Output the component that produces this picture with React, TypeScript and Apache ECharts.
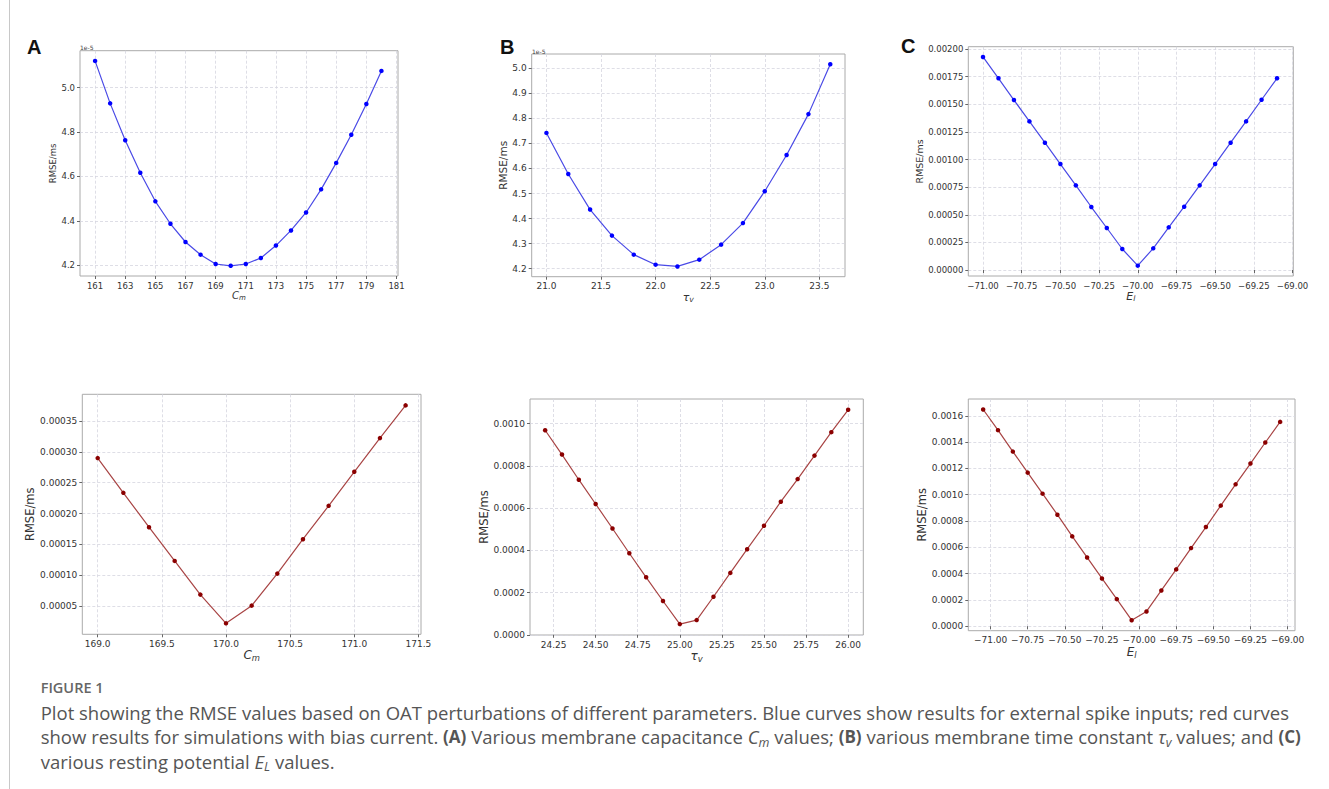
import React, { useEffect, useRef } from "react";
import * as echarts from "echarts";

// ---------- data ----------
const cmA = [161, 162, 163, 164, 165, 166, 167, 168, 169, 170, 171, 172, 173, 174, 175, 176, 177, 178, 179, 180];
const rmseA = [5.12, 4.929, 4.763, 4.617, 4.488, 4.387, 4.305, 4.248, 4.206, 4.198, 4.206, 4.233, 4.289, 4.357, 4.438, 4.542, 4.661, 4.788, 4.926, 5.075];

const tauB = [21.0, 21.2, 21.4, 21.6, 21.8, 22.0, 22.2, 22.4, 22.6, 22.8, 23.0, 23.2, 23.4, 23.6];
const rmseB = [4.742, 4.578, 4.436, 4.332, 4.256, 4.216, 4.209, 4.236, 4.296, 4.382, 4.509, 4.654, 4.817, 5.016];

const elC = [-71.0, -70.9, -70.8, -70.7, -70.6, -70.5, -70.4, -70.3, -70.2, -70.1, -70.0, -69.9, -69.8, -69.7, -69.6, -69.5, -69.4, -69.3, -69.2, -69.1];
const rmseC = [0.001928, 0.001735, 0.001538, 0.001345, 0.001152, 0.000959, 0.000766, 0.00057, 0.00038, 0.00019, 0.0000392, 0.000196, 0.000386, 0.000573, 0.000766, 0.000959, 0.001152, 0.001345, 0.001541, 0.001735];

const cmD = [169.0, 169.2, 169.4, 169.6, 169.8, 170.0, 170.2, 170.4, 170.6, 170.8, 171.0, 171.2, 171.4];
const rmseD = [0.00029, 0.0002336, 0.0001778, 0.0001231, 0.0000684, 0.0000218, 0.0000505, 0.0001025, 0.0001583, 0.0002125, 0.0002677, 0.0003224, 0.0003755];

const tauE = [24.2, 24.3, 24.4, 24.5, 24.6, 24.7, 24.8, 24.9, 25.0, 25.1, 25.2, 25.3, 25.4, 25.5, 25.6, 25.7, 25.8, 25.9, 26.0];
const rmseE = [0.000968, 0.000853, 0.000734, 0.000619, 0.000503, 0.000386, 0.000272, 0.00016, 0.0000506, 0.0000696, 0.00018, 0.000293, 0.000405, 0.000516, 0.00063, 0.000737, 0.000848, 0.000959, 0.001065];

const elF = [-71.05, -70.95, -70.85, -70.75, -70.65, -70.55, -70.45, -70.35, -70.25, -70.15, -70.05, -69.95, -69.85, -69.75, -69.65, -69.55, -69.45, -69.35, -69.25, -69.15, -69.05];
const rmseF = [0.001648, 0.001491, 0.001328, 0.001168, 0.001008, 0.000848, 0.000683, 0.000523, 0.000363, 0.000206, 0.0000457, 0.000112, 0.000272, 0.000432, 0.000594, 0.000754, 0.000917, 0.001079, 0.001237, 0.001397, 0.001554];

// ---------- tick values ----------
const xTicksA = [161, 163, 165, 167, 169, 171, 173, 175, 177, 179, 181];
const yTicksA = [4.2, 4.4, 4.6, 4.8, 5.0];
const xTicksB = [21.0, 21.5, 22.0, 22.5, 23.0, 23.5];
const yTicksB = [4.2, 4.3, 4.4, 4.5, 4.6, 4.7, 4.8, 4.9, 5.0];
const xTicksC = [-71.0, -70.75, -70.5, -70.25, -70.0, -69.75, -69.5, -69.25, -69.0];
const yTicksC = [0, 0.00025, 0.0005, 0.00075, 0.001, 0.00125, 0.0015, 0.00175, 0.002];
const xTicksD = [169.0, 169.5, 170.0, 170.5, 171.0, 171.5];
const yTicksD = [0.00005, 0.0001, 0.00015, 0.0002, 0.00025, 0.0003, 0.00035];
const xTicksE = [24.25, 24.5, 24.75, 25.0, 25.25, 25.5, 25.75, 26.0];
const yTicksE = [0, 0.0002, 0.0004, 0.0006, 0.0008, 0.001];
const xTicksF = [-71.0, -70.75, -70.5, -70.25, -70.0, -69.75, -69.5, -69.25, -69.0];
const yTicksF = [0, 0.0002, 0.0004, 0.0006, 0.0008, 0.001, 0.0012, 0.0014, 0.0016];

// ---------- texts ----------
const yAxisTitle = "RMSE/ms";
const panelLetters = ["A", "B", "C"];
const offsetText = "1e-5";
const figureLabel = "FIGURE 1";
const captionLines = [
  "Plot showing the RMSE values based on OAT perturbations of different parameters. Blue curves show results for external spike inputs; red curves",
  "show results for simulations with bias current. {b|(A)} Various membrane capacitance {i|C}{s|m} values; {b|(B)} various membrane time constant {i|τ}{s|v} values; and {b|(C)}",
  "various resting potential {i|E}{s|L} values.",
];

const BLUE_LINE = "#4a4ae6";
const BLUE_DOT = "#0000ff";
const RED_LINE = "#a84444";
const RED_DOT = "#8b0000";

const fmt = (v: number, d: number) => v.toFixed(d).replace("-", "\u2212");

type Panel = {
  x: number[]; y: number[]; xt: number[]; yt: number[]; xd: number; yd: number;
  xName: string;
  left: number; top: number; width: number; height: number;
  xMin: number; xMax: number; yMin: number; yMax: number;
  tick: number; yNameSize: number; yGap: number; xNameSize: number; xGap: number;
  line: string; dot: string;
};

const panels: Panel[] = [
  { x: cmA, y: rmseA, xt: xTicksA, yt: yTicksA, xd: 0, yd: 1, xName: "{i|C}{s|m}",
    left: 80, top: 50.7, width: 318, height: 225.3, xMin: 160, xMax: 181.1, yMin: 4.152, yMax: 5.166,
    tick: 8.5, yNameSize: 8.5, yGap: 15, xNameSize: 10, xGap: 11, line: BLUE_LINE, dot: BLUE_DOT },
  { x: tauB, y: rmseB, xt: xTicksB, yt: yTicksB, xd: 1, yd: 1, xName: "{i|τ}{s|v}",
    left: 531.7, top: 54, width: 313.3, height: 222.7, xMin: 20.865, xMax: 23.735, yMin: 4.168, yMax: 5.057,
    tick: 9, yNameSize: 10.5, yGap: 15, xNameSize: 11, xGap: 9.5, line: BLUE_LINE, dot: BLUE_DOT },
  { x: elC, y: rmseC, xt: xTicksC, yt: yTicksC, xd: 2, yd: 5, xName: "{i|E}{s|l}",
    left: 968.3, top: 46.7, width: 325, height: 229.3, xMin: -71.095, xMax: -68.995, yMin: -0.0000543, yMax: 0.002021,
    tick: 8.5, yNameSize: 9.5, yGap: 37, xNameSize: 11, xGap: 9, line: BLUE_LINE, dot: BLUE_DOT },
  { x: cmD, y: rmseD, xt: xTicksD, yt: yTicksD, xd: 1, yd: 5, xName: "{i|C}{s|m}",
    left: 82.3, top: 394.3, width: 338.7, height: 240, xMin: 168.88, xMax: 171.52, yMin: 0.000004, yMax: 0.0003935,
    tick: 9, yNameSize: 11.5, yGap: 35, xNameSize: 12, xGap: 15, line: RED_LINE, dot: RED_DOT },
  { x: tauE, y: rmseE, xt: xTicksE, yt: yTicksE, xd: 2, yd: 4, xName: "{i|τ}{s|v}",
    left: 530, top: 399, width: 333.3, height: 236, xMin: 24.11, xMax: 26.09, yMin: -0.000001, yMax: 0.001116,
    tick: 9, yNameSize: 11.5, yGap: 35, xNameSize: 12, xGap: 6, line: RED_LINE, dot: RED_DOT },
  { x: elF, y: rmseF, xt: xTicksF, yt: yTicksF, xd: 2, yd: 4, xName: "{i|E}{s|l}",
    left: 968.3, top: 399, width: 326.7, height: 231.7, xMin: -71.15, xMax: -68.95, yMin: -0.0000343, yMax: 0.001728,
    tick: 9, yNameSize: 11.5, yGap: 32, xNameSize: 12, xGap: 8.5, line: RED_LINE, dot: RED_DOT },
];

const MPL = "DejaVu Sans";
const CAP = "Open Sans";
const CAP_SIZE = 18.5;

function buildOption() {
  const grid = panels.map((p) => ({
    left: p.left, top: p.top, width: p.width, height: p.height,
    show: true, borderColor: "#aaaaaa", borderWidth: 1, backgroundColor: "#ffffff",
  }));
  const gridLine = { show: true, lineStyle: { color: "#d6d6e0", width: 0.8, type: [3, 2] as any } };
  const xAxis = panels.map((p, i) => ({
    type: "value", gridIndex: i, min: p.xMin, max: p.xMax,
    axisLine: { show: false },
    axisTick: { show: true, length: 3, lineStyle: { color: "#666" }, customValues: p.xt },
    axisLabel: { show: true, customValues: p.xt, margin: 5, fontSize: p.tick, fontFamily: MPL, color: "#333",
      formatter: (v: number) => fmt(v, p.xd) },
    splitLine: gridLine,
    name: p.xName, nameLocation: "middle", nameGap: p.xGap,
    nameTextStyle: {
      fontFamily: MPL, color: "#333", verticalAlign: "middle",
      rich: {
        i: { fontFamily: MPL, fontStyle: "italic", fontSize: p.xNameSize, color: "#333", lineHeight: p.xNameSize + 2 },
        s: { fontFamily: MPL, fontStyle: "italic", fontSize: p.xNameSize * 0.7, color: "#333", lineHeight: p.xNameSize * 0.7, verticalAlign: "bottom" },
      },
    },
  }));
  const yAxis = panels.map((p, i) => ({
    type: "value", gridIndex: i, min: p.yMin, max: p.yMax,
    axisLine: { show: false },
    axisTick: { show: true, length: 3, lineStyle: { color: "#666" }, customValues: p.yt },
    axisLabel: { show: true, customValues: p.yt, margin: 5, fontSize: p.tick, fontFamily: MPL, color: "#333",
      formatter: (v: number) => fmt(v, p.yd) },
    splitLine: gridLine,
    name: yAxisTitle, nameLocation: "middle", nameGap: p.yGap, nameRotate: 90,
    nameTextStyle: { fontFamily: MPL, fontSize: p.yNameSize, color: "#333" },
  }));
  const series = panels.map((p, i) => ({
    type: "line", xAxisIndex: i, yAxisIndex: i,
    data: p.x.map((xv, k) => [xv, p.y[k]]),
    symbol: "circle", symbolSize: 4.5, showSymbol: true,
    lineStyle: { color: p.line, width: 1.2 },
    itemStyle: { color: p.dot },
    emphasis: { disabled: true },
  }));

  const richCap = {
    b: { fontFamily: CAP, fontWeight: "bold", fontSize: 17, fill: "#555", lineHeight: 24 },
    i: { fontFamily: CAP, fontStyle: "italic", fontSize: CAP_SIZE, fill: "#555", lineHeight: 24 },
    s: { fontFamily: CAP, fontStyle: "italic", fontSize: 12.5, fill: "#555", lineHeight: 15, verticalAlign: "bottom" },
  };
  const graphic: any[] = [
    ...panelLetters.map((t, k) => ({
      type: "text", x: [27, 500, 901][k], y: [47, 47, 46][k],
      style: { text: t, fontFamily: "Liberation Sans", fontWeight: "bold", fontSize: 20, fill: "#111", verticalAlign: "middle" },
    })),
    { type: "text", x: 80, y: 47, style: { text: offsetText, fontFamily: MPL, fontSize: 6, fill: "#444", verticalAlign: "middle" } },
    { type: "text", x: 532, y: 51, style: { text: offsetText, fontFamily: MPL, fontSize: 6, fill: "#444", verticalAlign: "middle" } },
    { type: "text", x: 40.7, y: 687, style: { text: figureLabel, fontFamily: CAP, fontWeight: 600, fontSize: 14.5, fill: "#666", verticalAlign: "middle" } },
    ...captionLines.map((t, k) => ({
      type: "text", x: 40.7, y: 712 + k * 24.5,
      style: { text: t, fontFamily: CAP, fontSize: CAP_SIZE, fill: "#555", verticalAlign: "middle", rich: richCap },
    })),
    { type: "line", shape: { x1: 9.5, y1: 0, x2: 9.5, y2: 789 }, style: { stroke: "#c8c8c8", lineWidth: 1 } },
  ];

  return { animation: false, backgroundColor: "#ffffff", grid, xAxis, yAxis, series, graphic };
}

export default function App() {
  const ref = useRef<HTMLDivElement>(null);
  useEffect(() => {
    if (!ref.current) return;
    const chart = echarts.init(ref.current, undefined, { renderer: "svg" });
    chart.setOption(buildOption() as any);
    return () => chart.dispose();
  }, []);
  return <div ref={ref} style={{ position: "absolute", left: 0, top: 0, width: 1329, height: 789 }} />;
}
